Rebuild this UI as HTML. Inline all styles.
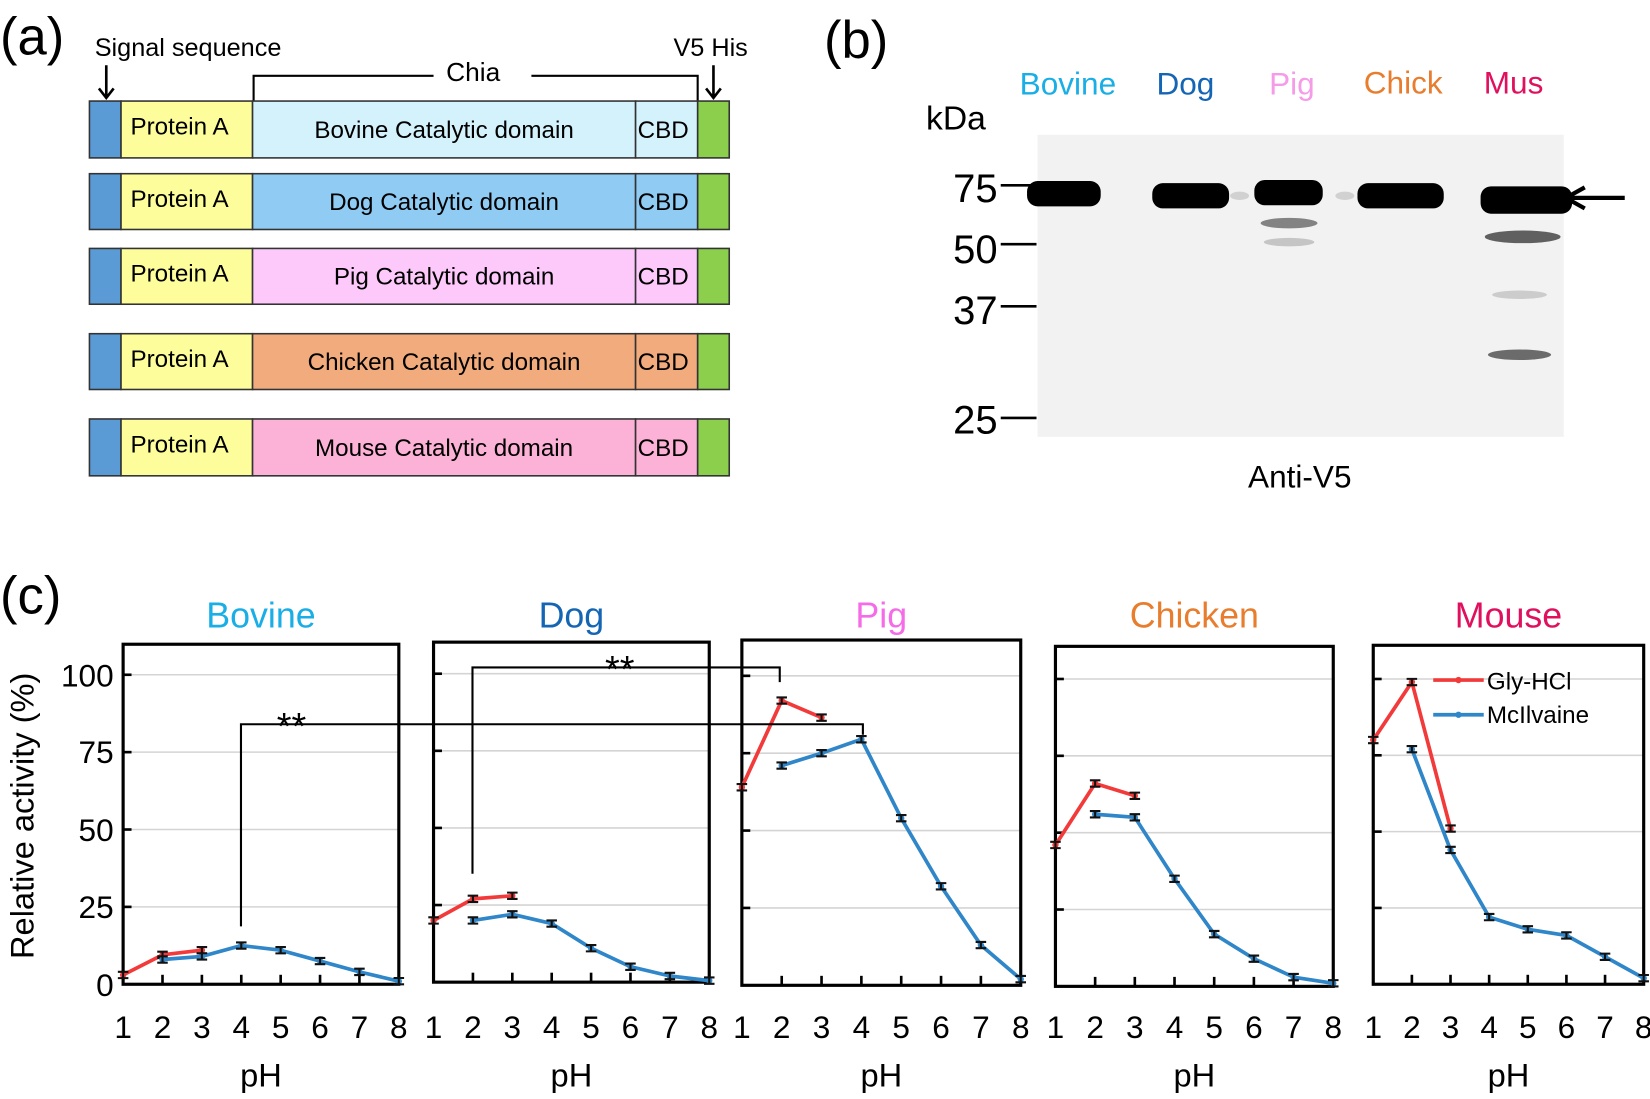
<!DOCTYPE html>
<html><head><meta charset="utf-8"><style>
html,body{margin:0;padding:0;background:#fff;}
svg{display:block;font-family:"Liberation Sans",sans-serif;}
</style></head><body>
<svg id="s" width="1650" height="1099" viewBox="0 0 1568 1044" preserveAspectRatio="none" xmlns="http://www.w3.org/2000/svg">
<rect width="1568" height="1044" fill="#fff"/>
<text x="0" y="52" font-size="50">(a)</text>
<text x="90" y="53" font-size="24">Signal sequence</text>
<text x="640" y="53" font-size="24">V5 His</text>
<text x="424" y="77" font-size="25">Chia</text>
<path d="M241 96 V72 H412 M505 72 H663 V96" stroke="#000" stroke-width="2" fill="none"/>
<path d="M101 62 V92 M94 84 L101 93 L108 84" stroke="#000" stroke-width="2.5" fill="none"/>
<path d="M678 62 V92 M671 84 L678 93 L685 84" stroke="#000" stroke-width="2.5" fill="none"/>
<g id="bars" font-size="23" stroke-width="1.5"></g>
<text x="783" y="55" font-size="50">(b)</text>
<text x="969" y="90" font-size="30" fill="#1aaee6">Bovine</text>
<text x="1099" y="90" font-size="30" fill="#1565b5">Dog</text>
<text x="1206" y="90" font-size="30" fill="#f59ce8">Pig</text>
<text x="1296" y="89" font-size="30" fill="#e87d2e">Chick</text>
<text x="1410" y="89" font-size="30" fill="#e0105e">Mus</text>
<text x="880" y="123" font-size="32">kDa</text>
<rect x="986" y="128" width="500" height="287" fill="#f2f2f2"/>
<g fill="#000">
<rect x="976" y="172" width="70" height="24" rx="10"/>
<rect x="1095" y="174" width="73" height="24" rx="10"/>
<rect x="1192" y="171" width="65" height="24" rx="10"/>
<rect x="1290" y="174" width="82" height="24" rx="10"/>
<rect x="1407" y="177" width="87" height="26" rx="10"/>
</g>
<g fill="#555" opacity="0.7">
<ellipse cx="1225" cy="212" rx="27" ry="5"/>
<ellipse cx="1225" cy="230" rx="24" ry="4" opacity="0.4"/>
<ellipse cx="1447" cy="225" rx="36" ry="6" fill="#222"/>
<ellipse cx="1444" cy="280" rx="26" ry="4" opacity="0.35"/>
<ellipse cx="1444" cy="337" rx="30" ry="5" fill="#333"/>
<ellipse cx="1178" cy="186" rx="9" ry="4" opacity="0.3"/>
<ellipse cx="1278" cy="186" rx="9" ry="4" opacity="0.3"/>
</g>
<g font-size="38" text-anchor="end">
<text x="948" y="192">75</text><text x="948" y="250">50</text><text x="948" y="308">37</text><text x="948" y="412">25</text>
</g>
<path d="M951 176 H985 M951 232 H985 M951 291 H985 M951 397 H985" stroke="#000" stroke-width="2.5"/>
<path d="M1544 188 H1490 M1506 178 L1488 188 L1506 198" stroke="#000" stroke-width="4" fill="none"/>
<text x="1186" y="463" font-size="30">Anti-V5</text>
<text x="0" y="583" font-size="50">(c)</text>
<text x="32" y="775" font-size="31" text-anchor="middle" transform="rotate(-90 32 775)">Relative activity (%)</text>
<g font-size="30" text-anchor="end">
<text x="108" y="652">100</text><text x="108" y="725">75</text><text x="108" y="799">50</text><text x="108" y="872">25</text><text x="108" y="946">0</text>
</g>
<g id="charts"></g>
<path d="M229 880 V688 H820 V698 M449 830 V634 H741 V648" stroke="#000" stroke-width="2" fill="none"/>
<text x="263" y="702" font-size="36">**</text>
<text x="575" y="648" font-size="36">**</text>
<path d="M1362 646 H1410" stroke="#f23a3a" stroke-width="3.5"/><circle cx="1386" cy="646" r="3" fill="#f23a3a"/>
<path d="M1362 679 H1410" stroke="#2f86c8" stroke-width="3.5"/><circle cx="1386" cy="679" r="3" fill="#2f86c8"/>
<text x="1413" y="655" font-size="23">Gly-HCl</text>
<text x="1413" y="687" font-size="23">McIlvaine</text>
</svg>
<script>
var NS="http://www.w3.org/2000/svg";
function el(p,t,a,txt){var e=document.createElementNS(NS,t);for(var k in a)e.setAttribute(k,a[k]);if(txt!=null)e.textContent=txt;p.appendChild(e);return e;}
var bars=document.getElementById("bars");
var rows=[[96,150,"#d3f2fc","Bovine"],[165,218,"#8fcbf2","Dog"],[236,289,"#fdc9fb","Pig"],[317,370,"#f1ab7c","Chicken"],[398,452,"#fcb1d6","Mouse"]];
rows.forEach(function(r){var y=r[0],h=r[1]-r[0];
el(bars,"rect",{x:85,y:y,width:30,height:h,fill:"#5b9bd5",stroke:"#333"});
el(bars,"rect",{x:115,y:y,width:125,height:h,fill:"#fdfd9c",stroke:"#333"});
el(bars,"rect",{x:240,y:y,width:364,height:h,fill:r[2],stroke:"#333"});
el(bars,"rect",{x:604,y:y,width:59,height:h,fill:r[2],stroke:"#333"});
el(bars,"rect",{x:663,y:y,width:30,height:h,fill:"#8ccf4d",stroke:"#333"});
var ty=y+h/2+8;
el(bars,"text",{x:124,y:ty-3},"Protein A");
el(bars,"text",{x:422,y:ty,"text-anchor":"middle"},r[3]+" Catalytic domain");
el(bars,"text",{x:606,y:ty},"CBD");});
var ch=document.getElementById("charts");
var P=[
{L:117,R:379,T:612,y0:935,y1:641,name:"Bovine",c:"#1aaee6",red:[3,9.5,11],blue:[8,9,12.5,11,7.5,4,1]},
{L:412,R:674,T:610,y0:933,y1:640,name:"Dog",c:"#1565b5",red:[20,27,28],blue:[20,22,19,11,5,2,0.5]},
{L:705,R:970,T:608,y0:936,y1:642,name:"Pig",c:"#f56be8",red:[64,92,86.5],blue:[71,75,79.5,54,32,13,2]},
{L:1003,R:1267,T:614,y0:937,y1:645,name:"Chicken",c:"#e87d2e",red:[46,66,62],blue:[56,55,35,17,9,3,1]},
{L:1305,R:1562,T:613,y0:935,y1:645,name:"Mouse",c:"#e0105e",red:[80,99,51],blue:[77,44,22,18,16,9,2]}];
P.forEach(function(p){
var X=function(v){return p.L+(v-1)*(p.R-p.L)/7},Y=function(v){return p.y0-v*(p.y0-p.y1)/100};
el(ch,"text",{x:(p.L+p.R)/2,y:596,"font-size":34,"text-anchor":"middle",fill:p.c},p.name);
[25,50,75,100].forEach(function(v){el(ch,"line",{x1:p.L,x2:p.R,y1:Y(v),y2:Y(v),stroke:"#d4d4d4","stroke-width":1.5});
el(ch,"line",{x1:p.L,x2:p.L+8,y1:Y(v),y2:Y(v),stroke:"#000","stroke-width":2.5});});
for(var i=2;i<=7;i++)el(ch,"line",{x1:X(i),x2:X(i),y1:p.y0,y2:p.y0-9,stroke:"#000","stroke-width":2.5});
el(ch,"rect",{x:p.L,y:p.T,width:p.R-p.L,height:p.y0-p.T,fill:"none",stroke:"#000","stroke-width":3});
for(var i=1;i<=8;i++)el(ch,"text",{x:X(i),y:986,"font-size":30,"text-anchor":"middle"},String(i));
el(ch,"text",{x:(p.L+p.R)/2,y:1032,"font-size":31,"text-anchor":"middle"},"pH");
function ser(arr,st,col){var pts=arr.map(function(v,j){return X(st+j)+","+Y(v)}).join(" ");
el(ch,"polyline",{points:pts,fill:"none",stroke:col,"stroke-width":3.5,"stroke-linejoin":"round"});
arr.forEach(function(v,j){var x=X(st+j),y=Y(v);el(ch,"circle",{cx:x,cy:y,r:3,fill:col});
el(ch,"path",{d:"M"+(x-5)+" "+(y-3)+"h10M"+(x-5)+" "+(y+3)+"h10M"+x+" "+(y-3)+"v6",stroke:"#111","stroke-width":2});});}
ser(p.red,1,"#f23a3a");ser(p.blue,2,"#2f86c8");
});
</script>
</body></html>
